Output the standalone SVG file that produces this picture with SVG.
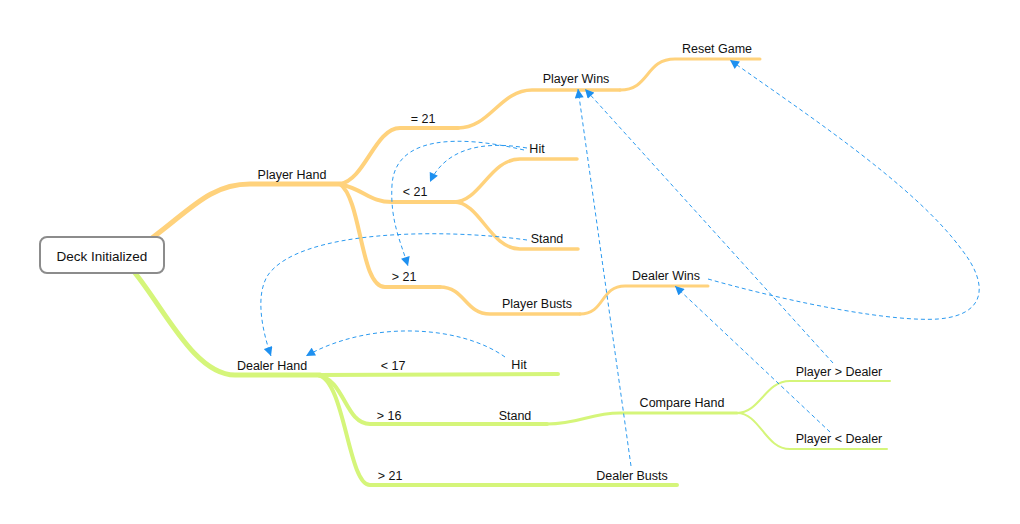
<svg xmlns="http://www.w3.org/2000/svg" width="1020" height="524" viewBox="0 0 1020 524">
<style>
  text { font-family: "Liberation Sans", Arial, sans-serif; font-size: 12.5px; fill: #111; text-anchor: middle; }
  .o { fill: none; stroke: #FFD27C; stroke-linecap: round; }
  .g { fill: none; stroke: #D5F57A; stroke-linecap: round; }
  .c { fill: none; stroke: #2B9AF0; stroke-width: 1; stroke-dasharray: 4 3; marker-end: url(#arr); }
</style>
<defs>
  <marker id="arr" viewBox="0 0 10 10" refX="10" refY="5" markerWidth="10" markerHeight="9" markerUnits="userSpaceOnUse" orient="auto">
    <path d="M0,0 L10,5 L0,10 z" fill="#1E90F0"/>
  </marker>
</defs>
<rect width="1020" height="524" fill="#fff"/>

<g id="branches">
  <path class="o" stroke-width="5" d="M152,238 C190,210 210,184 250,184 L340,184"/>
  <path class="o" stroke-width="4" d="M340,184 C365,180 375,128 400,128 L458,128"/>
  <path class="o" stroke-width="3.5" d="M458,128 C490,128 500,90 532,90 L620,90"/>
  <path class="o" stroke-width="3" d="M620,90 C650,90 645,59 675,59 L760,59"/>
  <path class="o" stroke-width="4" d="M340,184 C365,190 370,202 392,202 L454,202"/>
  <path class="o" stroke-width="3.5" d="M454,202 C480,202 490,159 520,159 L577,159"/>
  <path class="o" stroke-width="3.5" d="M454,202 C480,202 490,249 520,249 L578,249"/>
  <path class="o" stroke-width="4" d="M340,184 C362,200 360,287 385,287 L440,287"/>
  <path class="o" stroke-width="3.5" d="M440,287 C465,287 465,314 490,314 L580,314"/>
  <path class="o" stroke-width="3" d="M580,314 C605,314 600,286 625,286 L708,286"/>

  <path class="g" stroke-width="5" d="M135,273 C165,310 195,375 235,375 L320,375"/>
  <path class="g" stroke-width="4" d="M318,375 L558,374"/>
  <path class="g" stroke-width="4" d="M318,375 C345,380 345,424 370,424 L547,424"/>
  <path class="g" stroke-width="3" d="M547,424 C580,424 590,413 620,413 L737,413"/>
  <path class="g" stroke-width="2" d="M737,413 C760,413 765,381 790,381 L890,381"/>
  <path class="g" stroke-width="2" d="M737,413 C760,413 765,449 790,449 L887,449"/>
  <path class="g" stroke-width="4" d="M318,375 C345,380 348,485 370,485 L677,485"/>
</g>

<g id="deck-initialized">
  <rect x="40" y="237" width="124" height="36" rx="7" fill="#fff" stroke="#8C8C8C" stroke-width="2"/>
  <text x="102" y="261" style="font-size:13.5px">Deck Initialized</text>
</g>
<g id="player-hand"><text x="292" y="179">Player Hand</text></g>
<g id="eq21"><text x="423" y="123">= 21</text></g>
<g id="player-wins"><text x="576" y="83">Player Wins</text></g>
<g id="reset-game"><text x="717" y="53">Reset Game</text></g>
<g id="p-hit"><text x="537" y="153">Hit</text></g>
<g id="lt21"><text x="415" y="196">&lt; 21</text></g>
<g id="p-stand"><text x="547" y="243">Stand</text></g>
<g id="p-gt21"><text x="404" y="281">&gt; 21</text></g>
<g id="player-busts"><text x="537" y="308">Player Busts</text></g>
<g id="dealer-wins"><text x="666" y="280">Dealer Wins</text></g>
<g id="dealer-hand"><text x="272" y="370">Dealer Hand</text></g>
<g id="lt17"><text x="393" y="370">&lt; 17</text></g>
<g id="d-hit"><text x="519" y="369">Hit</text></g>
<g id="gt16"><text x="389" y="420">&gt; 16</text></g>
<g id="d-stand"><text x="515" y="420">Stand</text></g>
<g id="compare-hand"><text x="682" y="407">Compare Hand</text></g>
<g id="player-gt-dealer"><text x="839" y="376">Player &gt; Dealer</text></g>
<g id="player-lt-dealer"><text x="839" y="443">Player &lt; Dealer</text></g>
<g id="d-gt21"><text x="390" y="480">&gt; 21</text></g>
<g id="dealer-busts"><text x="632" y="480">Dealer Busts</text></g>

<g id="connectors">
  <path class="c" d="M527,148 C480,140 445,150 430,182"/>
  <path class="c" d="M524,150 C460,135 395,135 392,185 C390,220 400,240 408,266"/>
  <path class="c" d="M527,240 C440,228 300,230 268,275 C255,295 262,330 271,356"/>
  <path class="c" d="M505,357 C460,325 370,320 306,356"/>
  <path class="c" d="M631,466 L578,89"/>
  <path class="c" d="M833,363 L585,89"/>
  <path class="c" d="M830,432 L675,286"/>
  <path class="c" d="M708,279 C800,305 895,322 938,319 C988,315 988,283 962,250 C915,185 800,110 730,60"/>
</g>
</svg>
